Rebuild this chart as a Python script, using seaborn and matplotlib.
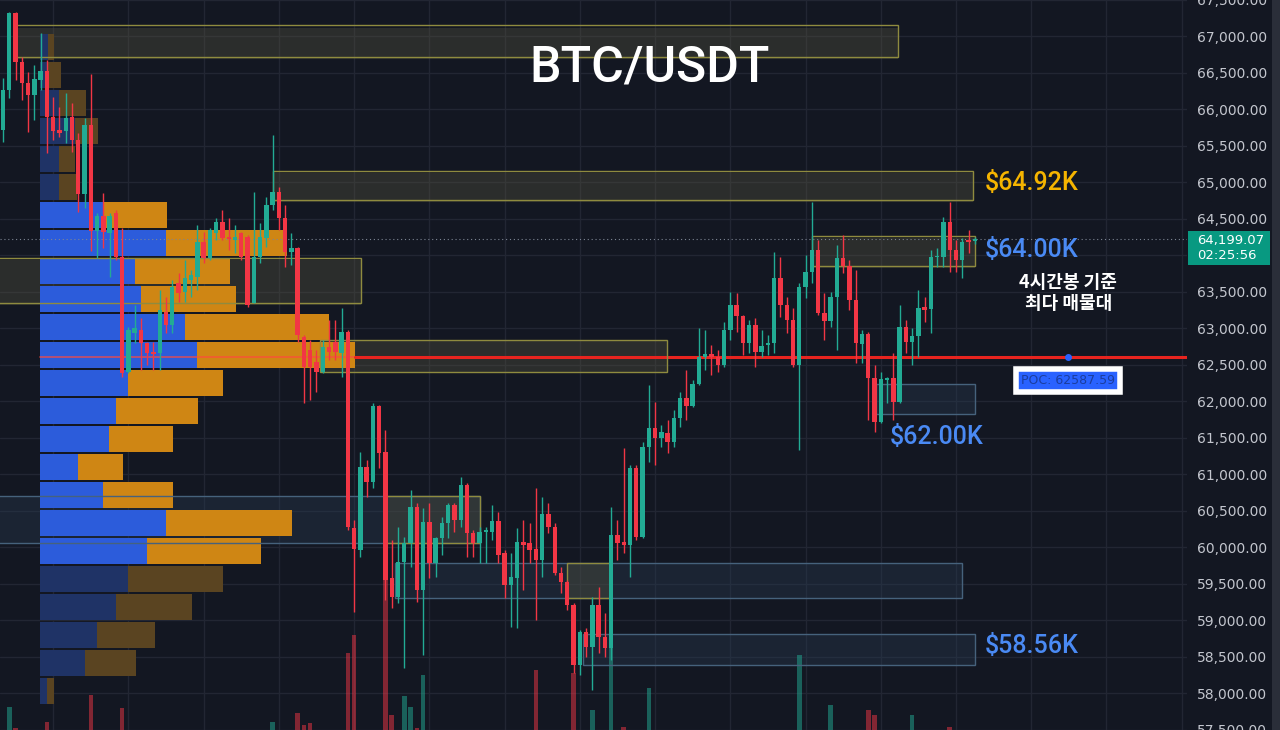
import matplotlib
matplotlib.use('Agg')
import matplotlib.pyplot as plt
import matplotlib.transforms as mtransforms
from matplotlib.patches import Rectangle
import pandas as pd
import seaborn as sns

# 4h candles BTC/USDT, oldest first
opens = [65689, 66235, 67286, 66617, 66330, 66167, 66371, 66494, 65866, 65689,
         65675, 65866, 65552, 64815, 65757, 64309, 64514, 64282, 64555, 63954,
         62384, 62916, 62957, 62780, 62657, 62643, 63203, 63025, 63599, 63476,
         63640, 63681, 64159, 63940, 64282, 64432, 64227, 64186, 64282, 64227,
         63326, 63954, 64214, 64664, 64842, 64487, 64022, 64077, 62862, 62684,
         62520, 62384, 62725, 62793, 62643, 62930, 60253, 59953, 61086, 60881,
         61919, 61291, 59570, 59311, 59789, 60048, 60540, 59406, 60335, 59775,
         60117, 60321, 60567, 60362, 60840, 60185, 60048, 60198, 60198, 60349,
         59912, 59475, 59570, 60062, 60048, 59966, 59816, 60444, 60267, 59639,
         59516, 59202, 58382, 58833, 58628, 59202, 58764, 58614, 60158, 60062,
         60021, 61073, 60130, 61359, 61619, 61482, 61551, 61428, 61755, 62029,
         61919, 62220, 62588, 62629, 62588, 62479, 62957, 63299, 63148, 62780,
         63025, 62657, 62752, 62780, 63668, 63299, 63094, 62479, 63544, 63749,
         64050, 63189, 63080, 63408, 63940, 63831, 63367, 62766, 62903, 62302,
         61701, 62274, 62302, 61974, 62998, 62793, 62875, 63271, 63244, 63954,
         63954, 64432, 64050, 63913, 64186, 64173]
highs = [66399, 67300, 67300, 66686, 66481, 66576, 67013, 66645, 66139, 66003,
         66194, 66057, 65648, 65852, 66453, 64555, 64828, 64555, 64596, 64350,
         62998, 63299, 63121, 62793, 62793, 63503, 63408, 63640, 63736, 63913,
         63777, 64391, 64296, 64350, 64487, 64596, 64487, 64391, 64296, 64255,
         64842, 64418, 64774, 65620, 64910, 64664, 64282, 64091, 62889, 62821,
         62684, 62821, 63094, 63094, 63258, 62957, 60362, 61291, 61182, 61960,
         61933, 61591, 60089, 60267, 60130, 60772, 60595, 60526, 60595, 60130,
         60403, 60595, 60595, 60950, 60868, 60226, 60267, 60267, 60567, 60472,
         59953, 59912, 60253, 60362, 60321, 60799, 60676, 60595, 60321, 59720,
         59543, 59229, 58860, 58887, 59311, 59447, 59092, 60540, 60362, 61346,
         61113, 61113, 61428, 62206, 61974, 61660, 61728, 61865, 62110, 62411,
         62274, 62985, 62957, 62752, 62684, 63066, 63476, 63462, 63162, 63094,
         63121, 62957, 62889, 64022, 63954, 63408, 63258, 63599, 63981, 64705,
         64186, 63462, 63476, 64118, 64255, 63913, 63777, 62957, 62930, 62479,
         62384, 62315, 62643, 63299, 63094, 62985, 63503, 63408, 64050, 64077,
         64500, 64705, 64186, 64214, 64323, 64227]
lows = [65525, 66126, 66371, 66098, 65661, 65825, 66235, 65374, 65552, 65593,
        65511, 65388, 64569, 64623, 64036, 63940, 64077, 63681, 63913, 62315,
        62370, 62780, 62411, 62479, 62411, 62411, 62916, 62916, 63340, 63340,
        63408, 63503, 63872, 63913, 64186, 64186, 64050, 64009, 63913, 63271,
        63326, 63872, 64091, 64596, 64323, 63818, 63845, 62793, 61960, 62001,
        62110, 62370, 62547, 62547, 62315, 60226, 59106, 59857, 60676, 60799,
        61073, 59270, 59161, 59229, 58341, 59720, 59243, 58519, 59570, 59584,
        59884, 60117, 60198, 60267, 59857, 59857, 59775, 59775, 60089, 59775,
        59297, 58901, 58887, 59406, 59775, 58997, 59584, 60185, 59611, 59365,
        59133, 58273, 58246, 58491, 58041, 58546, 58491, 58450, 59816, 59912,
        59584, 60089, 60117, 61155, 61113, 61359, 61277, 61359, 61632, 61728,
        61906, 62206, 62411, 62343, 62384, 62452, 62821, 62930, 62616, 62643,
        62452, 62588, 62616, 62643, 63135, 62916, 62452, 61318, 63394, 63599,
        63162, 62821, 62998, 62684, 63736, 63230, 62506, 62506, 61728, 61564,
        61687, 61960, 61728, 61960, 62643, 62479, 62588, 63066, 62916, 63818,
        63818, 63749, 63749, 63667, 64009, 64132]
closes = [66235, 67286, 66617, 66330, 66167, 66385, 66494, 65866, 65675, 65648,
          65852, 65552, 64815, 65757, 64309, 64514, 64296, 64514, 63954, 62370,
          62957, 62985, 62780, 62643, 62629, 63230, 63025, 63544, 63462, 63668,
          63708, 64159, 63940, 64323, 64432, 64214, 64200, 64227, 63954, 63299,
          63954, 64227, 64664, 64842, 64487, 64022, 64077, 62889, 62452, 62452,
          62384, 62725, 62657, 62657, 62930, 60267, 59966, 61086, 60881, 61919,
          61277, 59543, 59311, 59789, 60048, 60540, 59406, 60335, 59775, 60117,
          60321, 60567, 60362, 60840, 60185, 60048, 60198, 60226, 60349, 59884,
          59475, 59584, 60062, 60021, 59953, 59816, 60444, 60267, 59639, 59516,
          59202, 58382, 58833, 58628, 59202, 58764, 58614, 60158, 60048, 60021,
          61073, 60130, 61359, 61619, 61482, 61564, 61428, 61755, 62029, 61919,
          62220, 62588, 62629, 62588, 62479, 62957, 63299, 63148, 62780, 63025,
          62657, 62739, 62780, 63668, 63299, 63094, 62479, 63544, 63749, 64050,
          63189, 63080, 63408, 63940, 63831, 63367, 62780, 62903, 62302, 61701,
          62288, 62302, 61974, 62998, 62793, 62875, 63258, 63230, 63954, 63968,
          64432, 64050, 63913, 64159, 64159, 64199.07]
# visible part of the volume bars
volumes = [0, 23, 2, 0, 0, 0, 0, 8, 0, 0,
           0, 0, 0, 0, 35, 0, 0, 0, 0, 22,
           0, 0, 0, 0, 0, 0, 0, 0, 0, 0,
           0, 0, 0, 0, 0, 0, 0, 0, 0, 0,
           0, 0, 0, 8, 0, 0, 0, 17, 5, 7,
           0, 0, 0, 0, 0, 77, 95, 0, 0, 0,
           0, 150, 15, 0, 34, 23, 2, 55, 0, 0,
           0, 0, 0, 0, 0, 0, 0, 0, 0, 0,
           0, 0, 0, 0, 0, 60, 0, 0, 0, 0,
           0, 57, 0, 0, 20, 0, 0, 83, 0, 3,
           0, 0, 0, 42, 0, 0, 0, 0, 0, 0,
           0, 0, 0, 0, 0, 0, 0, 0, 0, 0,
           0, 0, 0, 0, 0, 0, 0, 75, 0, 0,
           0, 0, 25, 0, 0, 0, 0, 0, 20, 15,
           0, 0, 0, 0, 0, 15, 0, 0, 0, 0,
           0, 3, 0, 0, 0, 0]

# volume profile (rows from top to bottom)
profile_price = [66822, 66439, 66057, 65674, 65292, 64910, 64527, 64145, 63762, 63380,
                 62997, 62615, 62233, 61850, 61468, 61085, 60703, 60320, 59938, 59556,
                 59173, 58791, 58408, 58026]
profile_up = [8, 8, 19, 35, 19, 19, 63, 126, 95, 101, 145, 157,
              88, 76, 69, 38, 63, 126, 107, 88, 76, 57, 45, 7]
profile_down = [6, 13, 27, 23, 16, 18, 64, 121, 95, 95, 144, 158,
                95, 82, 64, 45, 70, 126, 114, 95, 76, 58, 51, 7]
value_area = [False] * 6 + [True] * 13 + [False] * 5
poc_price = 62587.59

# zones: start candle, end candle, low, high, kind
zones = [(2.1, 142.7, 66686, 67123, 'supply'),
         (43.0, 154.7, 64732, 65129, 'supply'),
         (-1.0, 57.1, 63326, 63940, 'supply'),
         (50.6, 105.9, 62384, 62821, 'supply'),
         (-1.0, 76.1, 60048, 60690, 'demand'),
         (61.1, 76.1, 60048, 60690, 'supply'),
         (62.5, 153.0, 59297, 59775, 'demand'),
         (90.0, 96.8, 59297, 59775, 'supply'),
         (92.5, 155.0, 58382, 58806, 'demand'),
         (139.2, 155.0, 61810, 62220, 'demand'),
         (129.0, 155.0, 63831, 64241, 'supply')]

level_text = ['$64.92K', '$64.00K', '$62.00K', '$58.56K']
level_x = [156.6, 156.6, 141.5, 156.6]
level_y = [64965, 64050, 61496, 58642]
level_kind = ['supply', 'demand', 'demand', 'demand']

price_ticks = list(range(57500, 68000, 500))
grid_candles = list(range(8, 189, 12))

BG = '#131722'
UP = '#22ab94'
DOWN = '#f23645'
YMIN, YMAX = 57494, 67464
XMIN, XMAX = -0.48, 188.84

sns.set_theme(style='dark')
plt.rcParams['font.family'] = ['Roboto', 'Noto Sans CJK KR', 'DejaVu Sans']

fig = plt.figure(figsize=(12.8, 7.3), dpi=100)
fig.patch.set_facecolor(BG)
rect = [0, 0, 1187 / 1280, 1]
ax_grid = fig.add_axes(rect)
ax_prof = fig.add_axes(rect)
ax_vol = fig.add_axes(rect)
ax = fig.add_axes(rect)

last = closes[-1]

# background + grid + price scale (the label under the price tag is hidden)
ax_grid.set_facecolor(BG)
for s in ax_grid.spines.values():
    s.set_visible(False)
ax_grid.set_xlim(XMIN, XMAX)
ax_grid.set_ylim(YMIN, YMAX)
ax_grid.set_xticks(grid_candles)
ax_grid.set_xticklabels([])
ax_grid.yaxis.tick_right()
ax_grid.set_yticks(price_ticks)
ax_grid.set_yticklabels(['' if abs(p - last) < 300 else f'{p:,.2f}' for p in price_ticks],
                        family='DejaVu Sans')
ax_grid.tick_params(axis='y', length=0, pad=7, labelsize=10, labelcolor='#c3c6ce')
ax_grid.tick_params(axis='x', length=0)
ax_grid.grid(True, color='#222633', lw=1)

# zone fills sit under the profile, outlines on top
for x0, x1, lo, hi, kind in zones:
    fc = '#5a5840' if kind == 'supply' else '#2a3d55'
    ax_grid.add_patch(Rectangle((x0, lo), x1 - x0, hi - lo, facecolor=fc, alpha=0.35,
                                edgecolor='none', zorder=1))

# volume profile with seaborn
prof = pd.DataFrame({'price': profile_price, 'up': profile_up,
                     'total': [u + d for u, d in zip(profile_up, profile_down)],
                     'area': ['value' if v else 'outer' for v in value_area]})
sns.barplot(data=prof, x='total', y='price', hue='area', orient='h', native_scale=True,
            palette={'value': '#cf8614', 'outer': '#5a4421'}, width=0.93, dodge=False,
            errorbar=None, saturation=1, legend=False, linewidth=0, edgecolor='none',
            ax=ax_prof)
sns.barplot(data=prof, x='up', y='price', hue='area', orient='h', native_scale=True,
            palette={'value': '#2c5cdb', 'outer': '#1f3366'}, width=0.93, dodge=False,
            errorbar=None, saturation=1, legend=False, linewidth=0, edgecolor='none',
            ax=ax_prof)
ax_prof.set_facecolor('none')
ax_prof.set_xlim(-40, 1147)
ax_prof.set_ylim(YMIN, YMAX)
poc_len = prof['total'][prof['price'].sub(poc_price).abs().idxmin()]
ax_prof.plot([0, poc_len], [poc_price, poc_price], color='#ff4a3d', lw=1.2, alpha=0.75)
ax_prof.plot([poc_len, 1147], [poc_price, poc_price], color='#e8241f', lw=2.2)
ax_prof.axis('off')

# volume bars
idx = list(range(len(opens)))
up_flags = [c >= o for o, c in zip(opens, closes)]
ax_vol.bar(idx, volumes, width=0.72, color=[UP if u else DOWN for u in up_flags],
           alpha=0.5, linewidth=0)
ax_vol.set_xlim(XMIN, XMAX)
ax_vol.set_ylim(0, 730)
ax_vol.set_facecolor('none')
ax_vol.axis('off')

for x0, x1, lo, hi, kind in zones:
    ec = '#8f8b3f' if kind == 'supply' else '#46627c'
    ax.add_patch(Rectangle((x0, lo), x1 - x0, hi - lo, facecolor='none',
                           edgecolor=ec, lw=1, zorder=1.5))

# candles
colors = [UP if u else DOWN for u in up_flags]
ax.vlines(idx, lows, highs, colors=colors, lw=1.0, zorder=3)
bodies = [max(abs(c - o), 15) for o, c in zip(opens, closes)]
bottoms = [min(o, c) for o, c in zip(opens, closes)]
ax.bar(idx, bodies, bottom=bottoms, width=0.7, color=colors, linewidth=0, zorder=4)

# current price line
ax.axhline(last, color='#7d8594', lw=0.8, ls=(0, (1, 2.5)), zorder=2)

# level labels
for t, x, y, k in zip(level_text, level_x, level_y, level_kind):
    ax.text(x, y, t, color='#f5b400' if k == 'supply' else '#4a8af4',
            fontsize=18, fontweight='medium', va='center', ha='left', zorder=6)

# POC annotation
ax.text(169.9, 63463, '4시간봉 기준\n최다 매물대', color='white', fontsize=13,
        fontweight='bold', ha='center', va='center', linespacing=1.15,
        family=['Noto Sans CJK KR', 'DejaVu Sans'], zorder=6)
ax.plot([169.9], [poc_price], marker='o', ms=4, color='#2962ff', zorder=6)
ax.text(169.9, 62274, f'POC: {poc_price:.2f}', color='#1b3d9e', fontsize=9,
        family='DejaVu Sans', ha='center', va='center', zorder=6,
        bbox=dict(boxstyle='square,pad=0.4', facecolor='#2962ff', edgecolor='white', lw=4))

ax.set_xlim(XMIN, XMAX)
ax.set_ylim(YMIN, YMAX)
ax.set_facecolor('none')
ax.axis('off')

# price tag on the scale
trans = mtransforms.blended_transform_factory(ax_grid.transAxes, ax_grid.transData)
ax_grid.add_patch(Rectangle((1.001, last - 327), 0.069, 465, transform=trans,
                            facecolor='#089981', edgecolor='none', clip_on=False))
ax_grid.text(1.0084, last, f'{last:,.2f}', transform=trans, color='white', fontsize=9.5,
             family='DejaVu Sans', va='center', ha='left')
ax_grid.text(1.0084, last - 195, '02:25:56', transform=trans, color='white', fontsize=9.5,
             family='DejaVu Sans', va='center', ha='left')

fig.add_artist(Rectangle((1272 / 1280, 0), 8 / 1280, 1, transform=fig.transFigure,
                         facecolor='#2a2e39', edgecolor='none'))

fig.text(650 / 1280, 1 - 67 / 730, 'BTC/USDT', color='white', fontsize=36,
         fontweight='medium', ha='center', va='center')

fig.savefig('out.png', dpi=100, facecolor=BG)
